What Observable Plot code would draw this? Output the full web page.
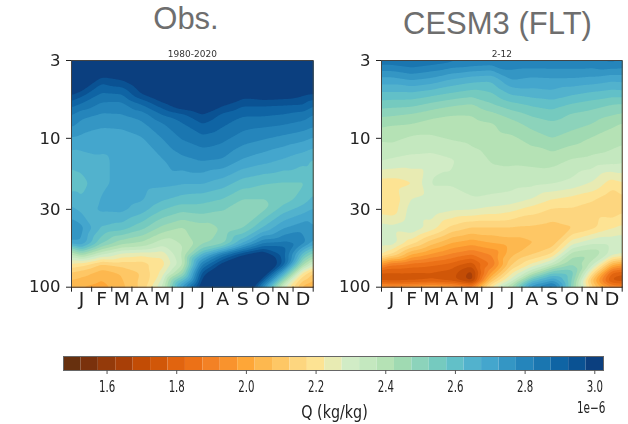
<!DOCTYPE html>
<html><head><meta charset="utf-8">
<script src="https://cdn.jsdelivr.net/npm/d3@7"></script>
<script src="https://cdn.jsdelivr.net/npm/@observablehq/plot@0.6"></script>
<style>
html,body{margin:0;padding:0;background:#fff;}
#page{position:relative;width:628px;height:424px;overflow:hidden;background:#fff;}
.title{position:absolute;font-family:"Liberation Sans",Arial,sans-serif;font-size:31px;color:#6e6e6e;line-height:36px;transform:translateX(-50%);white-space:nowrap;}
.slot{position:absolute;filter:blur(0.55px);}
.slot svg{display:block;background:transparent;}
</style></head><body>
<div id="page">
<div class="title" style="left:186px;top:1px">Obs.</div>
<div class="title" style="left:497.5px;top:6px">CESM3 (FLT)</div>
<div class="slot" id="a" style="left:0;top:0"></div>
<div class="slot" id="b" style="left:340px;top:0"></div>
<div class="slot" id="c" style="left:0;top:340px"></div>
</div>
<script>
const months = ["J","F","M","A","M","J","J","A","S","O","N","D"];
const pressureTicks = [3,10,30,100];
const cbarTicks = [1.6,1.8,2.0,2.2,2.4,2.6,2.8,3.0];
const colX = [0,0.5,1.5,2.5,3.5,4.5,5.5,6.5,7.5,8.5,9.5,10.5,11.5,12];

const bandEdges = [1.525,1.575,1.625,1.675,1.725,1.775,1.825,1.875,1.925,1.975,2.025,2.075,2.125,2.175,2.225,2.275,2.325,2.375,2.425,2.475,2.525,2.575,2.625,2.675,2.725,2.775,2.825,2.875,2.925,2.975];
const bandColors = ["#67300e","#7a310c","#943a0a","#a83f07","#c24c05","#d15708","#e1640f","#ec7117","#f38125","#f9932d","#fea637","#fdb84f","#fec765","#fdd67f","#fde393","#e8ebb3","#d1ecc6","#c4e8bf","#b5e2b5","#a0dab2","#8cd3bb","#75cabf","#62c0c8","#52b2cd","#44a6cd","#3496c4","#2585bb","#1a76b0","#0f64a4","#0a5293","#0b3f7f"];
const cbarEnds = [1.475,3.025];

const obsLevels = [3,4,5,6,7,8,10,14,20,26,30,40,50,55,60,70,80,100];
const obsC0  = [3.25,3.12,2.99,2.89,2.825,2.79,2.72,2.64,2.6,2.65,2.69,2.76,2.72,2.5,2.38,2.22,2.12,2.03];
const obsC1  = [3.25,3.1,2.95,2.86,2.79,2.76,2.71,2.65,2.605,2.63,2.66,2.74,2.72,2.6,2.45,2.2,2.1,2.02];
const obsC2  = [3.2,2.95,2.87,2.81,2.765,2.735,2.7,2.665,2.665,2.68,2.685,2.62,2.54,2.44,2.33,2.12,2.05,2.0];
const obsC3  = [3.2,2.98,2.88,2.805,2.77,2.74,2.7,2.69,2.69,2.695,2.69,2.6,2.45,2.36,2.26,2.15,2.08,2.06];
const obsC4  = [3.25,3.05,2.98,2.87,2.795,2.765,2.72,2.7,2.695,2.68,2.65,2.54,2.42,2.35,2.24,2.15,2.13,2.14];
const obsC5  = [3.3,3.15,3.05,2.95,2.87,2.82,2.775,2.72,2.69,2.63,2.58,2.46,2.35,2.3,2.24,2.2,2.24,2.33];
const obsC6  = [3.3,3.2,3.1,3.02,2.91,2.87,2.83,2.76,2.68,2.6,2.54,2.42,2.38,2.37,2.38,2.36,2.45,2.75];
const obsC7  = [3.35,3.25,3.15,3.05,2.97,2.925,2.86,2.78,2.68,2.59,2.55,2.45,2.46,2.53,2.64,2.82,2.94,3.05];
const obsC8  = [3.35,3.2,3.08,2.98,2.91,2.885,2.84,2.77,2.65,2.57,2.53,2.48,2.5,2.63,2.83,3.0,3.1,3.15];
const obsC9  = [3.35,3.15,3.01,2.93,2.88,2.85,2.8,2.72,2.6,2.52,2.49,2.52,2.66,2.8,2.97,3.08,3.15,3.2];
const obsC10 = [3.35,3.15,3.03,2.93,2.88,2.84,2.78,2.695,2.58,2.52,2.51,2.63,2.81,2.92,3.03,3.12,3.08,2.78];
const obsC11 = [3.35,3.15,3.02,2.925,2.87,2.83,2.76,2.67,2.57,2.55,2.6,2.72,2.83,2.9,2.9,2.92,2.7,2.3];
const obsC12 = [3.3,3.1,2.99,2.92,2.85,2.81,2.74,2.64,2.57,2.6,2.65,2.76,2.8,2.7,2.6,2.44,2.21,2.05];
const obsC13 = [3.25,3.05,2.98,2.88,2.82,2.79,2.72,2.62,2.6,2.64,2.68,2.73,2.72,2.6,2.5,2.3,2.12,2.02];
const obsColumns = [obsC0,obsC1,obsC2,obsC3,obsC4,obsC5,obsC6,obsC7,obsC8,obsC9,obsC10,obsC11,obsC12,obsC13];

const fltLevels = [3,4,5,6,7,8,10,14,20,26,30,40,50,60,70,80,90,100];
const fltC0  = [2.86,2.71,2.615,2.545,2.485,2.44,2.385,2.33,2.2,2.19,2.2,2.3,2.3,2.24,1.97,1.77,1.75,2.0];
const fltC1  = [2.86,2.71,2.615,2.54,2.48,2.43,2.39,2.32,2.2,2.18,2.19,2.29,2.31,2.18,1.89,1.77,1.74,1.98];
const fltC2  = [2.88,2.735,2.615,2.535,2.465,2.425,2.365,2.31,2.22,2.28,2.3,2.32,2.2,2.03,1.86,1.77,1.75,2.0];
const fltC3  = [2.86,2.715,2.595,2.505,2.44,2.405,2.365,2.305,2.33,2.3,2.31,2.25,2.1,1.97,1.84,1.77,1.77,2.02];
const fltC4  = [2.84,2.675,2.57,2.48,2.425,2.4,2.38,2.32,2.33,2.3,2.285,2.16,2.03,1.92,1.81,1.75,1.74,2.0];
const fltC5  = [2.83,2.65,2.55,2.465,2.425,2.41,2.39,2.35,2.34,2.32,2.28,2.12,2.0,1.88,1.75,1.65,1.64,1.92];
const fltC6  = [2.82,2.64,2.57,2.515,2.455,2.42,2.405,2.38,2.35,2.31,2.26,2.12,2.03,1.93,1.88,1.98,2.1,2.25];
const fltC7  = [2.82,2.73,2.635,2.555,2.495,2.455,2.415,2.385,2.345,2.3,2.24,2.12,2.05,2.06,2.12,2.22,2.3,2.45];
const fltC8  = [2.82,2.715,2.65,2.58,2.53,2.495,2.445,2.39,2.34,2.27,2.2,2.115,2.07,2.12,2.23,2.38,2.6,2.78];
const fltC9  = [2.82,2.72,2.66,2.595,2.55,2.515,2.475,2.395,2.33,2.22,2.17,2.1,2.09,2.18,2.34,2.56,2.72,2.88];
const fltC10 = [2.82,2.72,2.635,2.565,2.515,2.495,2.45,2.37,2.31,2.2,2.17,2.12,2.25,2.4,2.47,2.55,2.52,2.5];
const fltC11 = [2.82,2.71,2.615,2.545,2.5,2.475,2.42,2.36,2.27,2.18,2.15,2.16,2.31,2.42,2.35,2.2,2.07,2.15];
const fltC12 = [2.84,2.69,2.6,2.52,2.475,2.435,2.4,2.35,2.2,2.13,2.135,2.22,2.31,2.3,2.05,1.82,1.75,1.95];
const fltC13 = [2.83,2.695,2.605,2.515,2.465,2.42,2.39,2.34,2.22,2.16,2.16,2.24,2.31,2.28,2.0,1.79,1.73,1.93];
const fltColumns = [fltC0,fltC1,fltC2,fltC3,fltC4,fltC5,fltC6,fltC7,fltC8,fltC9,fltC10,fltC11,fltC12,fltC13];

const colorScale = {type:"threshold",domain:bandEdges,range:bandColors};
const inkColor = "#222";

function panel(columns, levels, subtitle, width, ml, mr){
  const grid = [];
  columns.forEach((col,i)=>col.forEach((q,j)=>grid.push({x:colX[i],p:levels[j],q})));
  return Plot.plot({
    width, height:320, marginLeft:ml, marginRight:mr, marginTop:60, marginBottom:33.3,
    style:{background:"transparent",color:inkColor},
    x:{domain:[0,12]},
    y:{type:"log",domain:[3,100],reverse:true},
    color:colorScale,
    marks:[
      Plot.contour(grid,{x:"x",y:"p",fill:"q",interpolate:"barycentric",thresholds:[0,...bandEdges],pixelSize:1,blur:1.5}),
      Plot.frame({stroke:"#444"}),
      Plot.axisY({ticks:pressureTicks,tickFormat:d=>String(d),tickSize:5,tickPadding:6,fontSize:16.5,label:null,stroke:inkColor,fontFamily:"DejaVu Sans"}),
      Plot.axisX({ticks:d3.range(0,13),tickFormat:null,text:null,tickSize:5,label:null,stroke:inkColor}),
      Plot.axisX({ticks:d3.range(0.5,12),tickFormat:d=>months[Math.floor(d)],tickSize:0,tickPadding:5,fontSize:17.5,label:null,fontFamily:"DejaVu Sans"}),
      Plot.text([subtitle],{text:d=>d,frameAnchor:"top",dy:-10,fontSize:9,fill:"#333",fontFamily:"DejaVu Sans"})
    ]
  });
}

// squeeze or stretch real text to the proportions of the picture
function fit(text, factor){
  text.setAttribute("textLength", (text.getComputedTextLength()*factor).toFixed(1));
  text.setAttribute("lengthAdjust","spacingAndGlyphs");
}

document.getElementById("a").appendChild(panel(obsColumns,obsLevels,"1980-2020",340,71,27.3));
document.getElementById("b").appendChild(panel(fltColumns,fltLevels,"2-12",288,41,6.3));

const lows = [cbarEnds[0],...bandEdges];
const highs = [...bandEdges,cbarEnds[1]];
const swatches = bandColors.map((c,i)=>({lo:lows[i],hi:highs[i],mid:(lows[i]+highs[i])/2}));
document.getElementById("c").appendChild(Plot.plot({
  width:628,height:84,marginLeft:63,marginRight:25,marginTop:16,marginBottom:54,
  style:{background:"transparent",color:inkColor},
  x:{domain:cbarEnds},
  color:colorScale,
  marks:[
    Plot.rect(swatches,{x1:"lo",x2:"hi",fill:"mid"}),
    Plot.frame({stroke:"#666"}),
    Plot.axisX({ticks:cbarTicks,tickFormat:d=>d.toFixed(1),tickSize:4,tickPadding:7,fontSize:15,label:null,stroke:"#555",fontFamily:"DejaVu Sans"}),
    Plot.text(["Q (kg/kg)"],{text:d=>d,frameAnchor:"bottom",dy:47,dx:1,fontSize:17,fill:inkColor,fontFamily:"DejaVu Sans"}),
    Plot.text(["1e\u22126"],{text:d=>d,frameAnchor:"bottom-right",dy:42,dx:2,fontSize:15,fill:inkColor,fontFamily:"DejaVu Sans"})
  ]
}));

document.querySelectorAll("#c text").forEach(t=>{
  const s=t.textContent;
  fit(t, s.startsWith("Q")?0.84:(s.startsWith("1e")?0.7:0.68));
});
document.querySelectorAll("#a text,#b text").forEach(t=>{
  if(months.includes(t.textContent)) fit(t,1.08);
});
</script>
</body></html>
